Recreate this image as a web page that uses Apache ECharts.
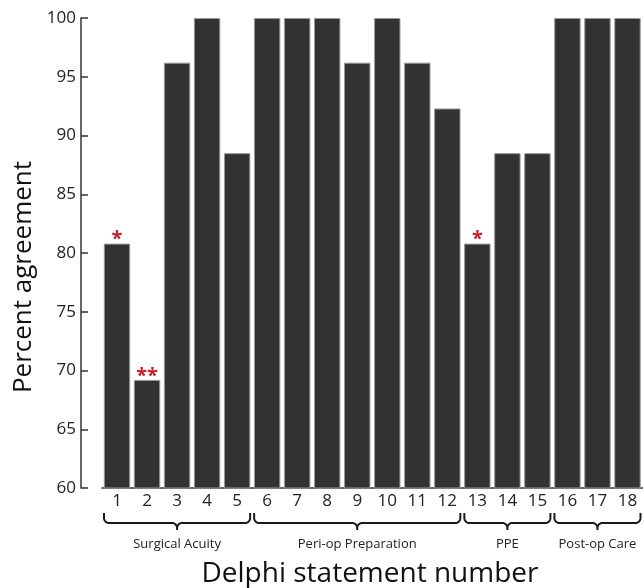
<!DOCTYPE html>
<html><head><meta charset="utf-8">
<script src="https://cdn.jsdelivr.net/npm/echarts@6/dist/echarts.min.js"></script>
<style>html,body{margin:0;padding:0;background:#fff}#c{width:643px;height:588px}</style>
</head><body><div id="c"></div>
<script>
const categories = ['1','2','3','4','5','6','7','8','9','10','11','12','13','14','15','16','17','18'];
const agreement = [80.8, 69.2, 96.2, 100, 88.5, 100, 100, 100, 96.2, 100, 96.2, 92.3, 80.8, 88.5, 88.5, 100, 100, 100];
const marks = ['*', '**', '', '', '', '', '', '', '', '', '', '', '*', '', '', '', '', ''];
const groupNames = ['Surgical Acuity', 'Peri-op Preparation', 'PPE', 'Post-op Care'];
const groupStart = [0, 5, 12, 15];
const groupEnd = [4, 11, 14, 17];
const yTicks = [60, 65, 70, 75, 80, 85, 90, 95, 100];

const FONT = '"Open Sans", "Noto Sans", sans-serif';
const chart = echarts.init(document.getElementById('c'), null, {renderer: 'canvas'});

function braceItem(params, api) {
  const s = api.value(0), e = api.value(1);
  const half = api.size([1, 0])[0] / 2;
  const p0 = api.coord([s, 60]);
  const p1 = api.coord([e, 60]);
  const x0 = p0[0] - half + 2, x1 = p1[0] + half - 2;
  const axisY = p0[1];
  const yTop = axisY + 25, yMid = axisY + 35, yTip = axisY + 42;
  const xc = (x0 + x1) / 2;
  const r = 5;
  const pts = [];
  const arc = (cx, cy, a0, a1) => { for (let k = 0; k <= 8; k++) { const a = a0 + (a1 - a0) * k / 8; pts.push([cx + r * Math.cos(a), cy + r * Math.sin(a)]); } };
  pts.push([x0, yTop]);
  arc(x0 + r, yMid - r, Math.PI, Math.PI / 2);
  arc(xc - r, yMid + r, -Math.PI / 2, 0);
  pts.push([xc, yTip]);
  arc(xc + r, yMid + r, Math.PI, Math.PI * 1.5);
  arc(x1 - r, yMid - r, Math.PI / 2, 0);
  pts.push([x1, yTop]);
  return {
    type: 'group',
    children: [
      {type: 'polyline', shape: {points: pts}, style: {stroke: '#1a1a1a', lineWidth: 2, fill: null}},
      {type: 'text', x: xc, y: axisY + 56, style: {text: groupNames[params.dataIndex], textAlign: 'center', textVerticalAlign: 'middle', font: '13px ' + FONT, fill: '#222'}}
    ]
  };
}

const braceData = groupNames.map((n, i) => [groupStart[i], groupEnd[i]]);

chart.setOption({
  animation: false,
  grid: {left: 102, right: 0.5, top: 18, bottom: 100, containLabel: false},
  xAxis: {
    type: 'category', data: categories,
    axisLine: {show: true, lineStyle: {color: '#333', width: 1.5}},
    axisTick: {show: false},
    axisLabel: {color: '#222', fontSize: 17, fontFamily: FONT, margin: 5}
  },
  yAxis: {
    type: 'value', min: 60, max: 100, interval: 5, offset: 21,
    axisLine: {show: true, lineStyle: {color: '#333', width: 1.5}},
    axisTick: {show: true, inside: true, length: 7, lineStyle: {color: '#333', width: 1.5}},
    splitLine: {show: false},
    axisLabel: {color: '#222', fontSize: 17, fontFamily: FONT, margin: 5}
  },
  graphic: [
    {type: 'text', x: 24, y: 277, rotation: Math.PI / 2,
     style: {text: 'Percent agreement', textAlign: 'center', textVerticalAlign: 'middle', font: '26px ' + FONT, fill: '#111'}},
    {type: 'text', x: 370, y: 574,
     style: {text: 'Delphi statement number', textAlign: 'center', textVerticalAlign: 'middle', font: '28px ' + FONT, fill: '#111'}}
  ],
  series: [
    {
      type: 'bar', data: agreement, barCategoryGap: '12%',
      itemStyle: {color: '#323232', borderColor: '#9a9a9a', borderWidth: 1},
      label: {show: true, position: 'top', distance: -6,
        formatter: p => marks[p.dataIndex], color: '#c8202a', fontSize: 20, fontWeight: 'bold', fontFamily: FONT}
    },
    {
      type: 'custom', data: braceData, renderItem: braceItem, clip: false, silent: true,
      encode: {x: [0, 1]}
    }
  ]
});
</script></body></html>
